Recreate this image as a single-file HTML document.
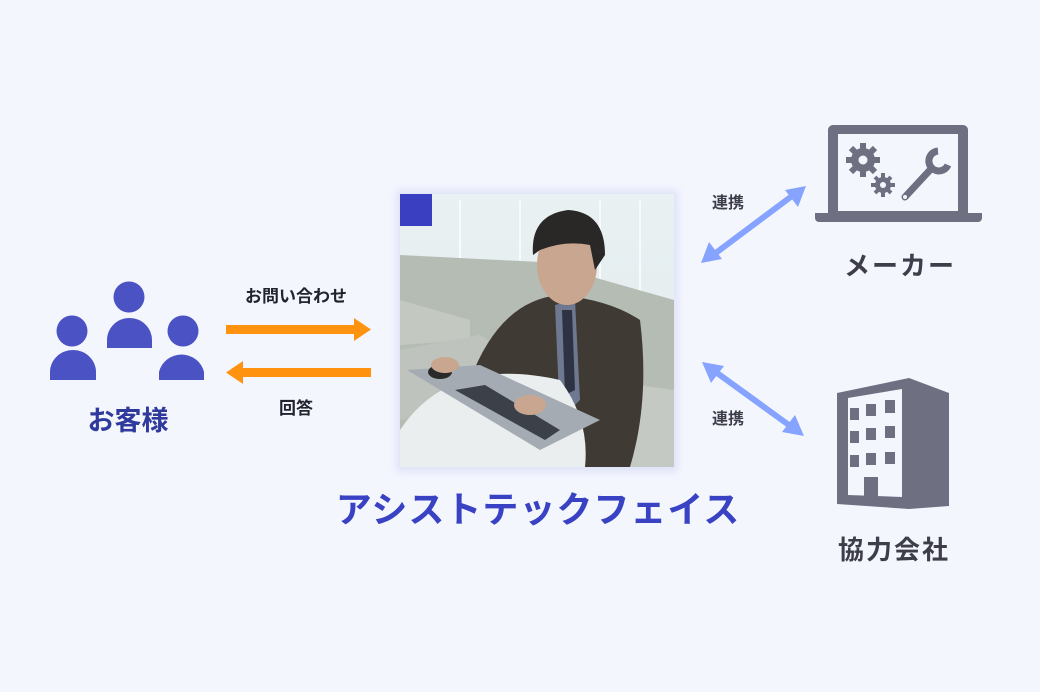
<!DOCTYPE html>
<html><head><meta charset="utf-8"><style>
html,body{margin:0;padding:0}
body{width:1040px;height:692px;background:#f4f6fe;position:relative;overflow:hidden;font-family:"Liberation Sans","Noto Sans CJK JP",sans-serif;font-weight:bold}
.t{position:absolute;white-space:nowrap;transform:translateX(-50%);line-height:1}
</style></head><body>
<svg width="1040" height="692" style="position:absolute;left:0;top:0">
<defs>
<linearGradient id="win" x1="0" y1="0" x2="0" y2="1"><stop offset="0" stop-color="#e9f1f3"/><stop offset="1" stop-color="#dfe8ea"/></linearGradient>
<filter id="sh" x="-10%" y="-10%" width="120%" height="120%"><feGaussianBlur stdDeviation="4"/></filter>
</defs>
<rect x="396" y="190" width="282" height="282" fill="#dfe2f8" filter="url(#sh)"/>
<g>
<rect x="400" y="194" width="274" height="273" fill="url(#win)"/>
<g stroke="#f7fbfc" stroke-width="2">
<line x1="460" y1="200" x2="460" y2="260"/><line x1="520" y1="200" x2="520" y2="260"/><line x1="600" y1="200" x2="600" y2="290"/><line x1="640" y1="200" x2="640" y2="300"/>
</g>
<path d="M400 255 L540 262 L674 300 L674 467 L400 467Z" fill="#b5bcb3"/>
<path d="M400 300 L470 320 L470 340 L400 345Z" fill="#c3c9c1"/>
<path d="M400 350 L480 335 L520 360 L520 400 L400 420Z" fill="#bec4bd"/>
<path d="M600 380 L674 390 L674 467 L590 467Z" fill="#c4c9c3"/>
<path d="M470 380 Q500 300 560 295 Q610 300 640 320 Q650 400 630 467 L540 467 L520 420 L470 400Z" fill="#3f3a33"/>
<path d="M555 305 L575 300 L580 400 L560 420Z" fill="#6e7890"/>
<path d="M562 310 L572 310 L575 390 L565 395Z" fill="#2e3344"/>
<ellipse cx="567" cy="265" rx="30" ry="40" fill="#c9a690"/>
<path d="M533 255 Q530 215 568 210 Q605 212 605 255 L595 270 L590 245 Q565 240 540 250Z" fill="#2a2826"/>
<path d="M400 430 Q450 355 560 380 Q590 420 585 467 L400 467Z" fill="#eaeeef"/>
<path d="M407 370 L540 450 L600 420 L480 365Z" fill="#a4abb2"/>
<path d="M455 390 L545 440 L560 430 L485 385Z" fill="#3c4048"/>
<ellipse cx="440" cy="372" rx="12" ry="7" fill="#2a2a2a"/>
<ellipse cx="445" cy="365" rx="14" ry="8" fill="#c9a690"/>
<ellipse cx="530" cy="405" rx="16" ry="10" fill="#c9a690"/>
</g>
<rect x="400" y="194" width="32" height="32" fill="#3a3fc2"/>
<g fill="#4a52c4">
<circle cx="72" cy="331" r="15.5"/><path d="M50 380 L50 372 A23 22 0 0 1 96 372 L96 380Z"/>
<circle cx="129" cy="297" r="15.5"/><path d="M107 348 L107 340 A22.5 22 0 0 1 152 340 L152 348Z"/>
<circle cx="183" cy="331" r="15.5"/><path d="M159 380 L159 372 A23 22 0 0 1 204 372 L204 380Z"/>
</g>
<g fill="#ff930f">
<rect x="226" y="325" width="130" height="9"/><path d="M354 318 L371 329.5 L354 341Z"/>
<rect x="242" y="368" width="129" height="9"/><path d="M243 361 L226 372.5 L243 384Z"/>
</g>
<g stroke="#86a4ff" stroke-width="6" fill="#86a4ff">
<line x1="713" y1="255" x2="796" y2="193"/>
<line x1="713" y1="370" x2="793" y2="428"/>
</g>
<g fill="#86a4ff">
<path d="M806 186 L798 207 L785 190Z"/>
<path d="M701 263 L709 242 L722 259Z"/>
<path d="M702 362 L724 366 L711 383Z"/>
<path d="M804 436 L782 432 L795 415Z"/>
</g>
<g fill="#6e6f80">
<path d="M833 125 H963 a5 5 0 0 1 5 5 V213 H828 V130 a5 5 0 0 1 5 -5Z"/>
<path d="M815 213 H982 V218 a4 4 0 0 1 -4 4 H819 a4 4 0 0 1 -4 -4Z"/>
</g>
<rect x="838" y="134" width="120" height="77" fill="#f4f6fe"/>
<g fill="#6e6f80">
<circle cx="863" cy="160" r="12"/>
<g stroke="#6e6f80" stroke-width="6">
<line x1="863" y1="143" x2="863" y2="177"/><line x1="846" y1="160" x2="880" y2="160"/>
<line x1="851" y1="148" x2="875" y2="172"/><line x1="875" y1="148" x2="851" y2="172"/>
</g>
<circle cx="883" cy="185" r="8"/>
<g stroke="#6e6f80" stroke-width="4">
<line x1="883" y1="173" x2="883" y2="197"/><line x1="871" y1="185" x2="895" y2="185"/>
<line x1="875" y1="177" x2="891" y2="193"/><line x1="891" y1="177" x2="875" y2="193"/>
</g>
<line x1="905" y1="197" x2="930" y2="170" stroke="#6e6f80" stroke-width="7" stroke-linecap="round"/>
<path d="M938 151 A10 10 0 1 0 948 165" fill="none" stroke="#6e6f80" stroke-width="7"/>
</g>
<circle cx="863" cy="160" r="4.5" fill="#f4f6fe"/>
<circle cx="883" cy="185" r="3" fill="#f4f6fe"/>
<circle cx="905" cy="197" r="2" fill="#f4f6fe"/>
<path d="M837 393 L909 378 L949 393 L949 506 L909 509 L837 504Z" fill="#6e6f80"/>
<path d="M848 398 L902 389 L902 497 L848 495Z" fill="#f4f6fe"/>
<g fill="#6e6f80">
<rect x="850" y="408" width="9" height="12"/><rect x="866" y="404" width="10" height="12"/><rect x="885" y="400" width="10" height="13"/>
<rect x="850" y="431" width="9" height="12"/><rect x="866" y="428" width="10" height="12"/><rect x="885" y="426" width="10" height="12"/>
<rect x="850" y="455" width="9" height="12"/><rect x="866" y="453" width="10" height="12"/><rect x="885" y="452" width="10" height="12"/>
<rect x="864" y="477" width="14" height="20"/>
</g>
</svg>
<div class="t" style="left:296px;top:288px;font-size:17px;color:#22232e">お問い合わせ</div>
<div class="t" style="left:296px;top:400px;font-size:17px;color:#22232e">回答</div>
<div class="t" style="left:128px;top:408px;font-size:27px;color:#2f3a9c">お客様</div>
<div class="t" style="left:538px;top:492px;font-size:36px;color:#3a42c4;letter-spacing:1px">アシストテックフェイス</div>
<div class="t" style="left:728px;top:196px;font-size:16px;color:#3d3e4a">連携</div>
<div class="t" style="left:728px;top:412px;font-size:16px;color:#3d3e4a">連携</div>
<div class="t" style="left:900px;top:253px;font-size:26px;color:#3d3e4a;letter-spacing:2px">メーカー</div>
<div class="t" style="left:894px;top:537px;font-size:26px;color:#3d3e4a;letter-spacing:2px">協力会社</div>
</body></html>
